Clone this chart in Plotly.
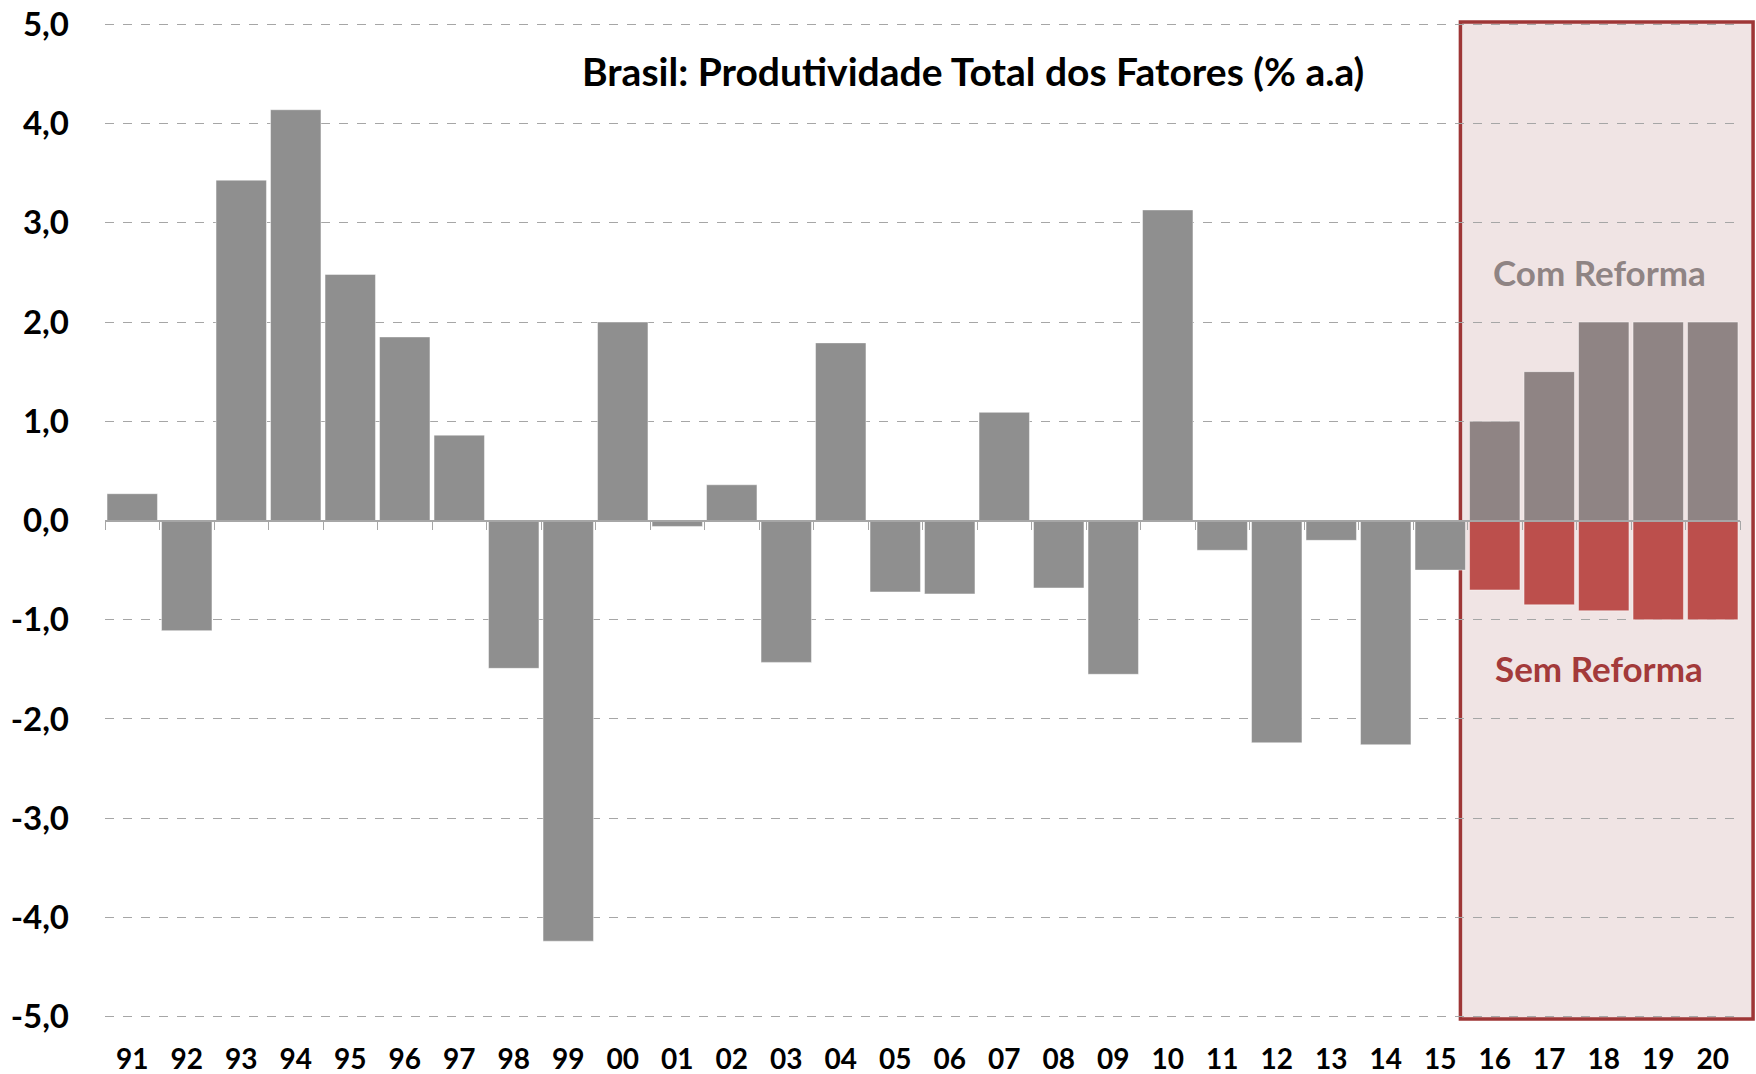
import plotly.graph_objects as go

years = ["91", "92", "93", "94", "95", "96", "97", "98", "99", "00",
         "01", "02", "03", "04", "05", "06", "07", "08", "09", "10",
         "11", "12", "13", "14", "15", "16", "17", "18", "19", "20"]
historico = [0.27, -1.11, 3.43, 4.14, 2.48, 1.85, 0.86, -1.49, -4.24, 2.00,
             -0.06, 0.36, -1.43, 1.79, -0.72, -0.74, 1.09, -0.68, -1.55, 3.13,
             -0.30, -2.24, -0.20, -2.26, -0.50, None, None, None, None, None]
com_reforma = [None] * 25 + [1.0, 1.5, 2.0, 2.0, 2.0]
sem_reforma = [None] * 25 + [-0.70, -0.85, -0.91, -1.0, -1.0]
zero_ref = [0] * 30
ytick_vals = [5, 4, 3, 2, 1, 0, -1, -2, -3, -4, -5]
ytick_text = ["5,0", "4,0", "3,0", "2,0", "1,0", "0,0", "-1,0", "-2,0", "-3,0", "-4,0", "-5,0"]

FONT = "Lato"
edge = dict(color="rgba(255,255,255,0.45)", width=1)

fig = go.Figure()
fig.add_trace(go.Bar(x=years, y=historico, marker=dict(color="#8F8F8F", line=edge), name="Histórico"))
fig.add_trace(go.Bar(x=years, y=com_reforma, marker=dict(color="#8F8484", line=edge), name="Com Reforma"))
fig.add_trace(go.Bar(x=years, y=sem_reforma, marker=dict(color="#BC4F4C", line=edge), name="Sem Reforma"))
# invisible trace carrying the zero-line axis
fig.add_trace(go.Scatter(x=years, y=zero_ref, mode="lines", line=dict(width=0),
                         hoverinfo="skip", showlegend=False, xaxis="x2"))

fig.update_layout(
    width=1756, height=1074,
    margin=dict(l=105, r=16, t=23, b=56, autoexpand=False),
    paper_bgcolor="white", plot_bgcolor="white",
    barmode="relative", bargap=0.075,
    showlegend=False,
    font=dict(family=FONT, color="black"),
    xaxis=dict(type="category", categoryorder="array", categoryarray=years,
               range=[-0.5, 29.5], showgrid=False, showline=False, zeroline=False,
               automargin=False, ticklabeloverflow="allow",
               ticks="", tickfont=dict(size=28, family=FONT, weight="bold"),
               ticklabelstandoff=22),
    xaxis2=dict(type="category", categoryorder="array", categoryarray=years,
                range=[-0.5, 29.5], overlaying="x", anchor="free", position=0.5,
                side="bottom", showline=True, linecolor="#A6A6A6", linewidth=1.5,
                automargin=False,
                ticks="outside", tickson="boundaries", ticklen=9, tickcolor="#A6A6A6",
                tickwidth=1, showticklabels=False, showgrid=False, zeroline=False),
    yaxis=dict(range=[-5.014, 5.014], tickvals=ytick_vals, ticktext=ytick_text,
               showgrid=True, gridcolor="#A6A6A6", griddash="dash", gridwidth=1,
               zeroline=False, showline=False, ticks="", automargin=False,
               ticklabeloverflow="allow",
               tickfont=dict(size=33, family=FONT, weight="bold"),
               ticklabelstandoff=35),
)

fig.add_shape(type="rect", xref="paper", yref="paper", x0=0.829, x1=1.008, y0=-0.001, y1=1.001,
              fillcolor="#F0E4E4", line=dict(color="#9E3636", width=3.5), layer="below")

fig.add_annotation(text="Brasil: Produtividade Total dos Fatores (% a.a)", xref="paper", yref="paper",
                   x=0.531, y=0.952, xanchor="center", yanchor="middle", showarrow=False,
                   font=dict(size=39, family=FONT, weight="bold", color="black"))
fig.add_annotation(text="Com Reforma", xref="paper", yref="paper", x=0.914, y=0.750,
                   xanchor="center", yanchor="middle",
                   showarrow=False, font=dict(size=35, family=FONT, weight="bold", color="#8F8484"))
fig.add_annotation(text="Sem Reforma", xref="paper", yref="paper", x=0.914, y=0.3515,
                   xanchor="center", yanchor="middle",
                   showarrow=False, font=dict(size=35, family=FONT, weight="bold", color="#A33A3A"))

fig.write_html("out.html", config={"displayModeBar": False},
               post_script="document.body.style.margin='0';")
